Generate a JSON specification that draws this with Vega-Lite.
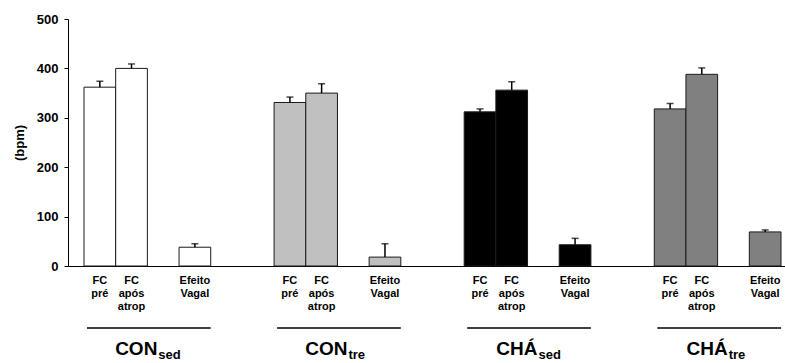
{
  "$schema": "https://vega.github.io/schema/vega-lite/v6.json",
  "autosize": {"type": "none"},
  "width": 717,
  "height": 247,
  "padding": {"left": 68, "top": 19, "right": 0, "bottom": 97},
  "background": "#ffffff",
  "config": {
    "font": "Liberation Sans",
    "view": {"stroke": null},
    "axisY": {
      "domainColor": "#000000", "tickColor": "#000000", "grid": false,
      "labelFont": "Liberation Sans", "labelFontSize": 13, "labelFontWeight": "bold", "labelColor": "#000000",
      "tickSize": 4, "labelPadding": 6,
      "titleFont": "Liberation Sans", "titleFontSize": 13, "titleFontWeight": "bold", "titleColor": "#000000", "titlePadding": 10
    },
    "axisX": {
      "domainColor": "#000000", "labels": false, "ticks": false, "grid": false
    }
  },
  "datasets": {
    "barras": [
      {"grupo": "CON sed", "medida": "FC pré", "valor": 362, "sup": 374},
      {"grupo": "CON sed", "medida": "FC após atrop", "valor": 400, "sup": 409},
      {"grupo": "CON sed", "medida": "Efeito Vagal", "valor": 38, "sup": 45},
      {"grupo": "CON tre", "medida": "FC pré", "valor": 331, "sup": 342},
      {"grupo": "CON tre", "medida": "FC após atrop", "valor": 350, "sup": 369},
      {"grupo": "CON tre", "medida": "Efeito Vagal", "valor": 18, "sup": 45},
      {"grupo": "CHÁ sed", "medida": "FC pré", "valor": 312, "sup": 318},
      {"grupo": "CHÁ sed", "medida": "FC após atrop", "valor": 356, "sup": 373},
      {"grupo": "CHÁ sed", "medida": "Efeito Vagal", "valor": 43, "sup": 56},
      {"grupo": "CHÁ tre", "medida": "FC pré", "valor": 318, "sup": 329},
      {"grupo": "CHÁ tre", "medida": "FC após atrop", "valor": 388, "sup": 401},
      {"grupo": "CHÁ tre", "medida": "Efeito Vagal", "valor": 69, "sup": 73}
    ],
    "grupos": [
      {"grupo": "CON sed", "base": "CON", "sub": "sed"},
      {"grupo": "CON tre", "base": "CON", "sub": "tre"},
      {"grupo": "CHÁ sed", "base": "CHÁ", "sub": "sed"},
      {"grupo": "CHÁ tre", "base": "CHÁ", "sub": "tre"}
    ]
  },
  "layer": [
    {
      "data": {"name": "barras"},
      "mark": {"type": "bar", "stroke": "#1a1a1a", "strokeWidth": 1},
      "encoding": {
        "x": {"field": "grupo", "type": "nominal", "title": null,
              "scale": {"domain": ["CON sed", "CON tre", "CHÁ sed", "CHÁ tre"], "paddingInner": 0.3333, "paddingOuter": 0.0526, "align": 0.8}},
        "xOffset": {"field": "medida", "type": "nominal",
              "scale": {"domain": ["FC pré", "FC após atrop", "gap", "Efeito Vagal"], "paddingInner": 0, "paddingOuter": 0}},
        "y": {"field": "valor", "type": "quantitative", "title": "(bpm)",
              "scale": {"domain": [0, 500], "nice": false},
              "axis": {"values": [0, 100, 200, 300, 400, 500]}},
        "fill": {"field": "grupo", "type": "nominal", "legend": null,
              "scale": {"domain": ["CON sed", "CON tre", "CHÁ sed", "CHÁ tre"], "range": ["#ffffff", "#c0c0c0", "#000000", "#808080"]}}
      }
    },
    {
      "data": {"name": "barras"},
      "mark": {"type": "rule", "color": "#000000", "strokeWidth": 1.5},
      "encoding": {
        "x": {"field": "grupo", "type": "nominal", "title": null},
        "xOffset": {"field": "medida", "type": "nominal"},
        "y": {"field": "valor", "type": "quantitative", "title": "(bpm)"},
        "y2": {"field": "sup"}
      }
    },
    {
      "data": {"name": "barras"},
      "mark": {"type": "tick", "color": "#000000", "size": 7, "thickness": 1.5, "orient": "horizontal"},
      "encoding": {
        "x": {"field": "grupo", "type": "nominal", "title": null},
        "xOffset": {"field": "medida", "type": "nominal"},
        "y": {"field": "sup", "type": "quantitative", "title": "(bpm)"}
      }
    },
    {
      "data": {"name": "barras"},
      "mark": {"type": "text", "baseline": "top", "dy": 9, "fontSize": 11, "fontWeight": "bold", "lineBreak": " ", "lineHeight": 13, "color": "#000000"},
      "encoding": {
        "x": {"field": "grupo", "type": "nominal", "title": null},
        "xOffset": {"field": "medida", "type": "nominal"},
        "y": {"datum": 0, "type": "quantitative", "title": "(bpm)"},
        "text": {"field": "medida"}
      }
    },
    {
      "data": {"name": "grupos"},
      "mark": {"type": "rule", "color": "#000000", "strokeWidth": 1.5, "xOffset": 3, "yOffset": 62},
      "encoding": {
        "x": {"field": "grupo", "type": "nominal", "title": null, "bandPosition": 0},
        "x2": {"field": "grupo", "bandPosition": 1},
        "y": {"datum": 0, "type": "quantitative", "title": "(bpm)"}
      }
    },
    {
      "data": {"name": "grupos"},
      "mark": {"type": "text", "align": "right", "baseline": "alphabetic", "dx": 10, "dy": 89, "fontSize": 19, "fontWeight": "bold", "color": "#000000"},
      "encoding": {
        "x": {"field": "grupo", "type": "nominal", "title": null},
        "y": {"datum": 0, "type": "quantitative", "title": "(bpm)"},
        "text": {"field": "base"}
      }
    },
    {
      "data": {"name": "grupos"},
      "mark": {"type": "text", "align": "left", "baseline": "alphabetic", "dx": 11, "dy": 93, "fontSize": 13, "fontWeight": "bold", "color": "#000000"},
      "encoding": {
        "x": {"field": "grupo", "type": "nominal", "title": null},
        "y": {"datum": 0, "type": "quantitative", "title": "(bpm)"},
        "text": {"field": "sub"}
      }
    }
  ]
}
